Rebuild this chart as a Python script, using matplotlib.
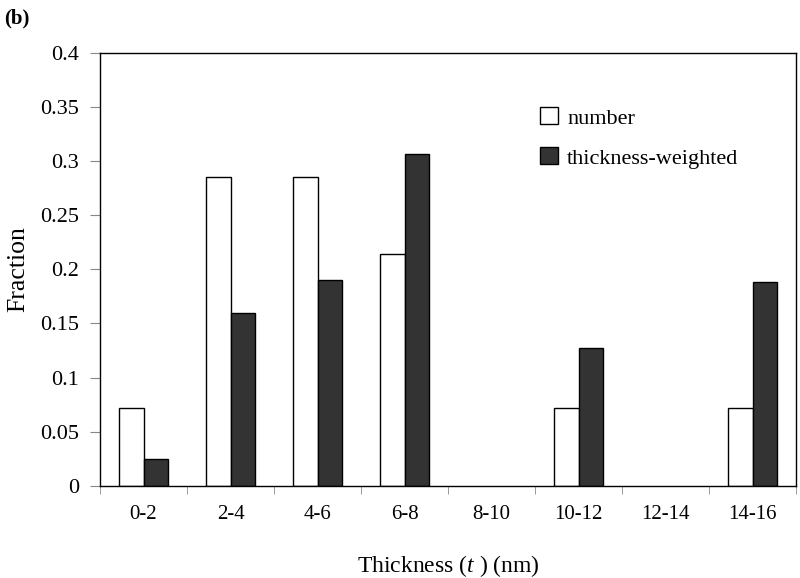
import matplotlib
matplotlib.use("Agg")
import matplotlib.pyplot as plt
import numpy as np

categories = ["0-2", "2-4", "4-6", "6-8", "8-10", "10-12", "12-14", "14-16"]
number = [0.0714, 0.2857, 0.2857, 0.2143, 0.0, 0.0714, 0.0, 0.0714]
weighted = [0.025, 0.160, 0.190, 0.307, 0.0, 0.127, 0.0, 0.188]
yticks = [0, 0.05, 0.1, 0.15, 0.2, 0.25, 0.3, 0.35, 0.4]
ytick_labels = ["0", "0.05", "0.1", "0.15", "0.2", "0.25", "0.3", "0.35", "0.4"]

plt.rcParams['font.family'] = ['Liberation Serif', 'DejaVu Serif']
plt.rcParams['mathtext.fontset'] = 'custom'
plt.rcParams['mathtext.rm'] = 'Liberation Serif'
plt.rcParams['mathtext.it'] = 'Liberation Serif:italic'

fig = plt.figure(figsize=(8, 5.78), dpi=100)
ax = fig.add_axes([0.125, 0.1597, 0.87, 0.7486])

x = np.arange(len(categories))
w = 0.287
ec_num = ['black' if v > 0 else 'none' for v in number]
ec_wt = ['black' if v > 0 else 'none' for v in weighted]
ax.bar(x - w, number, width=w, align='edge', color='white', edgecolor=ec_num,
       linewidth=1.0, label='number')
ax.bar(x, weighted, width=w, align='edge', color='#333333', edgecolor=ec_wt,
       linewidth=1.0, label='thickness-weighted')

ax.set_xlim(-0.5, len(categories) - 0.5)
ax.set_ylim(0, 0.4)
ax.set_yticks(yticks)
ax.set_yticklabels(ytick_labels, fontsize=16)
ax.set_xticks(x)
ax.set_xticklabels(categories, fontsize=15)
ax.set_xticks(np.arange(-0.5, len(categories), 1), minor=True)
ax.tick_params(axis='x', which='major', length=0, pad=14)
ax.tick_params(axis='x', which='minor', length=6, direction='out', color='#888888')
ax.tick_params(axis='y', length=7, direction='out', color='#888888', pad=8)

for s in ax.spines.values():
    s.set_linewidth(1.0)
    s.set_color('black')

ax.set_ylabel("Fraction", fontsize=18.5, labelpad=8)
ax.set_xlabel("Thickness ($\\mathit{t}$ ) (nm)", fontsize=17, labelpad=21)

leg = ax.legend(loc='upper left', bbox_to_anchor=(0.62, 0.895), frameon=False,
                fontsize=16, handlelength=0.8, handleheight=0.8,
                handletextpad=0.4, labelspacing=0.85, borderaxespad=0)
leg.legend_handles[1].set_edgecolor('black')

fig.text(0.005, 0.985, "(b)", fontsize=15, fontweight='bold', va='top', ha='left')

fig.savefig("out.png", dpi=100)
